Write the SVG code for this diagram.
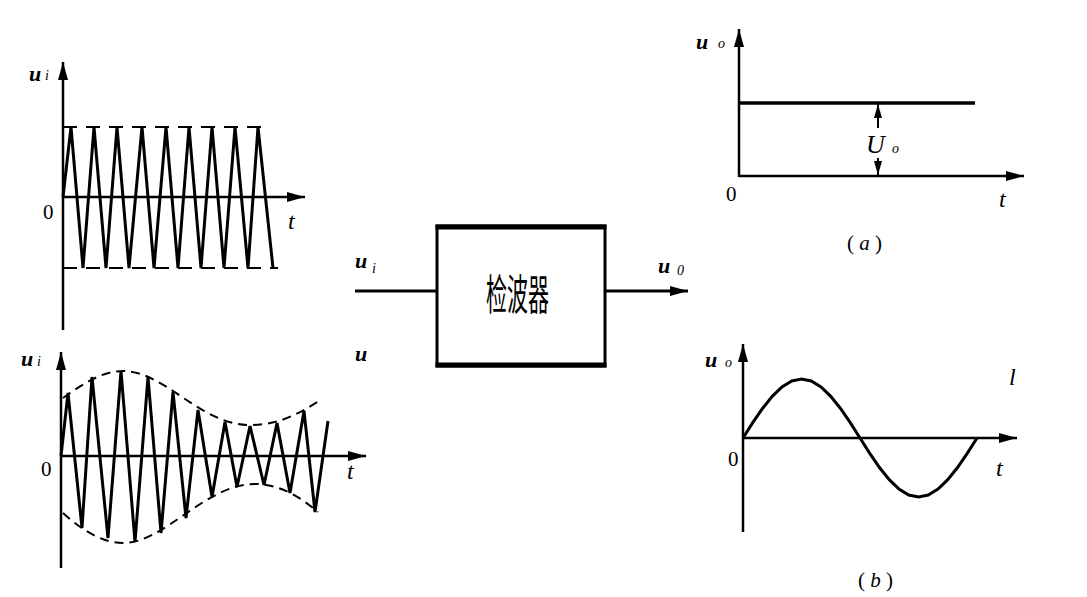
<svg xmlns="http://www.w3.org/2000/svg" width="1087" height="597" viewBox="0 0 1087 597">
<defs>
<marker id="ah" markerUnits="userSpaceOnUse" markerWidth="20" markerHeight="12" refX="18" refY="5" orient="auto">
<path d="M0,0 L18,5 L0,10 z" fill="#000"/>
</marker>
<marker id="ahs" markerUnits="userSpaceOnUse" markerWidth="16" markerHeight="10" refX="14" refY="4" orient="auto">
<path d="M0,0 L14,4 L0,8 z" fill="#000"/>
</marker>
</defs>
<style>
.ax{stroke:#000;stroke-width:2.5;fill:none}
.w{stroke:#000;stroke-width:3;fill:none;stroke-linejoin:miter}
.d{stroke:#000;stroke-width:2;fill:none}
.s{font-family:"Liberation Serif",serif;fill:#000}
.u{font-family:"Liberation Serif",serif;font-style:italic;font-weight:bold;font-size:22px}
.sub{font-family:"Liberation Serif",serif;font-style:italic;font-size:14px}
.t{font-family:"Liberation Serif",serif;font-style:italic;font-size:24px}
.z{font-family:"Liberation Serif",serif;font-size:21px}
</style>
<rect width="1087" height="597" fill="#fff"/>

<g id="plot-top-left">
<line class="ax" x1="63" y1="330" x2="63" y2="62" marker-end="url(#ah)"/>
<line class="ax" x1="63" y1="197" x2="305" y2="197" marker-end="url(#ah)"/>
<line class="d" x1="63" y1="127" x2="267" y2="127" stroke-dasharray="14 9"/>
<line class="d" x1="63" y1="268" x2="278" y2="268" stroke-dasharray="14 9"/>
<polyline class="w" points="63,197 71,127 83,268 94,127 106,268 117,127 129,268 142,127 154,268 166,127 178,268 189,127 201,268 212,127 224,268 235,127 248,268 258,127 273,268"/>
<text class="u" x="29" y="81">u</text><text class="sub" x="45" y="80">i</text>
<text class="z" x="43" y="219">0</text>
<text class="t" x="288" y="229">t</text>
</g>

<g id="plot-bottom-left">
<line class="ax" x1="61" y1="568" x2="61" y2="352" marker-end="url(#ah)"/>
<line class="ax" x1="61" y1="456" x2="366" y2="456" marker-end="url(#ah)"/>
<path class="d" stroke-dasharray="9 6" d="M63,398 C88,380 105,371 123,371 C165,371 200,425 250,425 C280,425 300,413 322,399"/>
<path class="d" stroke-dasharray="9 6" d="M63,513 C85,533 105,543 123,543 C165,543 205,484 255,484 C280,484 300,497 318,512"/>
<polyline class="w" points="61,456 68,393 82,528 92,377 108,538 121,371 135,542 148,377 161,533 173,392 186,518 198,410 212,497 225,422 237,487 250,426 264,485 277,423 290,493 304,411 315,512 328,421"/>
<text class="u" x="21" y="366">u</text><text class="sub" x="37" y="366">i</text>
<text class="z" x="41" y="476">0</text>
<text class="t" x="347" y="479">t</text>
</g>

<g id="detector">
<rect x="437" y="226" width="168" height="140" fill="#fff" stroke="#000" stroke-width="3"/>
<line x1="435.5" y1="227" x2="606.5" y2="227" stroke="#000" stroke-width="5"/>
<line x1="435.5" y1="365" x2="606.5" y2="365" stroke="#000" stroke-width="5"/>
<text x="486" y="310" font-family="'Noto Sans CJK SC',sans-serif" font-size="42" textLength="63" lengthAdjust="spacingAndGlyphs">检波器</text>
</g>

<g id="connectors">
<line x1="355" y1="291" x2="437" y2="291" stroke="#000" stroke-width="3"/>
<line x1="605" y1="291" x2="688" y2="291" stroke="#000" stroke-width="3" marker-end="url(#ah)"/>
</g>

<g id="io-labels">
<text class="u" x="355" y="268">u</text><text class="sub" x="372" y="273">i</text>
<text class="u" x="658" y="273">u</text><text class="sub" x="677" y="275">0</text>
<text class="u" x="355" y="361">u</text>
</g>

<g id="plot-a">
<line class="ax" x1="739" y1="177" x2="739" y2="29" marker-end="url(#ah)"/>
<line class="ax" x1="739" y1="176" x2="1024" y2="176" marker-end="url(#ah)"/>
<line x1="739" y1="103" x2="975" y2="103" stroke="#000" stroke-width="3.5"/>
<line x1="878" y1="128" x2="878" y2="104" stroke="#000" stroke-width="2" marker-end="url(#ahs)"/>
<line x1="878" y1="158" x2="878" y2="175" stroke="#000" stroke-width="2" marker-end="url(#ahs)"/>
<text class="s" x="866" y="153" font-style="italic" font-size="26">U</text><text class="sub" x="892" y="153">o</text>
<text class="u" x="696" y="49">u</text><text class="sub" x="718" y="48">o</text>
<text class="z" x="726" y="201">0</text>
<text class="t" x="999" y="207">t</text>
<text class="z" x="847" y="250" font-size="22">( <tspan font-style="italic">a</tspan> )</text>
</g>

<g id="plot-b">
<line class="ax" x1="743" y1="532" x2="743" y2="344" marker-end="url(#ah)"/>
<line class="ax" x1="743" y1="438" x2="1017" y2="438" marker-end="url(#ah)"/>
<polyline class="w" stroke-linejoin="round" points="743,438 752.75,422.7 762.5,408.5 772.25,396.3 782,386.9 791.75,381 801.5,379 811.25,381 821,386.9 830.75,396.3 840.5,408.5 850.25,422.7 860,438 869.75,453.3 879.5,467.5 889.25,479.7 899,489.1 908.75,495 918.5,497 928.25,495 938,489.1 947.75,479.7 957.5,467.5 967.25,453.3 977,438"/>
<text class="u" x="705" y="367">u</text><text class="sub" x="725" y="367">o</text>
<text class="z" x="728" y="466">0</text>
<text class="t" x="996" y="476">t</text>
<text class="t" x="1009" y="385">l</text>
<text class="z" x="858" y="587" font-size="22">( <tspan font-style="italic">b</tspan> )</text>
</g>
</svg>
